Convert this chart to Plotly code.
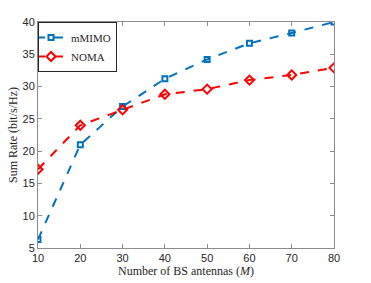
import plotly.graph_objects as go

antennas = [10, 20, 30, 40, 50, 60, 70, 80]
mmimo = [6.3, 21.0, 26.9, 31.2, 34.2, 36.7, 38.3, 40.0]
noma = [17.2, 24.0, 26.4, 28.8, 29.6, 31.0, 31.8, 32.9]
x_ticks = [10, 20, 30, 40, 50, 60, 70, 80]
y_ticks = [5, 10, 15, 20, 25, 30, 35, 40]

serif = "Liberation Serif, DejaVu Serif, serif"
sans = "Liberation Sans, Arial, sans-serif"

fig = go.Figure()
fig.add_trace(go.Scatter(
    x=antennas, y=mmimo, name="mMIMO", mode="lines+markers",
    line=dict(color="#0072BD", width=2, dash="dash"),
    marker=dict(symbol="square-open", size=5, color="#0072BD", line=dict(width=2)),
))
fig.add_trace(go.Scatter(
    x=antennas, y=noma, name="NOMA", mode="lines+markers",
    line=dict(color="#FF0000", width=2, dash="dash"),
    marker=dict(symbol="diamond-open", size=7, color="#FF0000", line=dict(width=2)),
))

axis_common = dict(
    showgrid=False, zeroline=False, showline=True, mirror="ticks",
    linecolor="#8c8c8c", linewidth=1, ticks="inside", ticklen=4,
    tickcolor="#8c8c8c", tickfont=dict(family=sans, size=11, color="#262626"),
    automargin=False,
)
fig.update_xaxes(range=[10, 80], tickvals=x_ticks,
                 title=dict(text="Number of BS antennas (<i>M</i>)",
                            font=dict(family=serif, size=12, color="#262626"), standoff=2),
                 **axis_common)
fig.update_yaxes(range=[5, 40], tickvals=y_ticks,
                 title=dict(text="Sum Rate (bit/s/Hz)",
                            font=dict(family=serif, size=12, color="#262626"), standoff=2),
                 **axis_common)

fig.update_layout(
    width=371, height=283,
    margin=dict(l=38, r=37, t=22, b=35),
    plot_bgcolor="white", paper_bgcolor="white",
    legend=dict(x=0, y=1, xanchor="left", yanchor="top",
                bgcolor="white", bordercolor="#262626", borderwidth=1,
                font=dict(family=serif, size=11, color="#262626"),
                itemwidth=30, tracegroupgap=0, indentation=-8),
    showlegend=True,
)
fig.write_html("out.html", config={"displayModeBar": False},
               post_script="document.body.style.margin='0';document.body.style.overflow='hidden';")
